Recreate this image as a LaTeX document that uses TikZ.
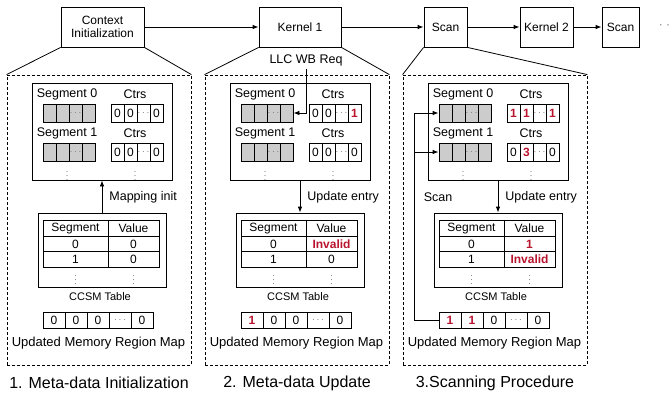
\documentclass[tikz,border=0pt]{standalone}
\usepackage{fontspec}
\setmainfont{Liberation Sans}
\usetikzlibrary{arrows.meta}

\definecolor{wbred}{RGB}{185,20,45}

\newcommand{\hot}[1]{\textcolor{wbred}{\bfseries #1}}
\newcommand{\ddd}{\textcolor{black!55}{\fontsize{10}{10}\selectfont$\cdots$}}
\newcommand{\vvv}{\textcolor{black!55}{\fontsize{9}{9}\selectfont$\vdots$}}

\tikzstyle{stage} = [
	draw = black,
	minimum height = 40pt,
	inner sep = 1pt,
	align = center,
	font = \fontsize{12}{13}\selectfont
	]
\tikzstyle{panel} = [
	draw = black,
	dash pattern = on 3pt off 2pt,
	minimum width = 184pt,
	minimum height = 290pt
	]
\tikzstyle{boxframe} = [draw = black]
\tikzstyle{lbl} = [inner sep = 0pt, font = \fontsize{12.5}{14}\selectfont]
\tikzstyle{capt} = [inner sep = 0pt, font = \fontsize{16}{18}\selectfont]
\tikzstyle{cell} = [
	draw = black,
	minimum width = 13pt,
	minimum height = 18pt,
	inner sep = 0pt,
	font = \fontsize{12}{12}\selectfont
	]
\tikzstyle{segcell} = [cell, fill = gray!40]
\tikzstyle{tcell} = [
	draw = black,
	minimum height = 15.5pt,
	inner sep = 0pt,
	font = \fontsize{12}{12}\selectfont
	]
\tikzstyle{mcell} = [cell, minimum width = 22pt, minimum height = 16pt]
\tikzstyle{vd} = [inner sep = 0pt]

\newcommand{\metapanel}[8]{%
	\begin{scope}[xshift=#2pt]
		\node[panel] (p#1) at (99,220) {};
		\node[capt] (cap#1) at (99,383) {#8};

		\node[boxframe, minimum width=140pt, minimum height=97pt] (seg#1) at (102,131.5) {};
		\node[lbl] (sl#1a) at (67,94) {Segment 0};
		\node[lbl] (cl#1a) at (135,94) {Ctrs};
		\node[lbl] (sl#1b) at (67,133) {Segment 1};
		\node[lbl] (cl#1b) at (135,133) {Ctrs};
		\foreach \i in {1,...,4} {
			\node[segcell] (s#1a\i) at (36.5+13*\i,113) {\ifnum\i=3 \ddd\fi};
			\node[segcell] (s#1b\i) at (36.5+13*\i,152) {\ifnum\i=3 \ddd\fi};
		}
		\foreach \v [count=\i] in {#3}
			\node[cell] (c#1a\i) at (104.5+13*\i,113) {\v};
		\foreach \v [count=\i] in {#4}
			\node[cell] (c#1b\i) at (104.5+13*\i,152) {\v};
		\node[vd] (sv#1) at (67,173) {\vvv};
		\node[vd] (cv#1) at (135,173) {\vvv};

		\node[boxframe, minimum width=128pt, minimum height=74pt] (tab#1) at (102,250) {};
		\node[tcell, minimum width=65pt] (th#1a) at (75.5,228.5) {Segment};
		\node[tcell, minimum width=51pt] (th#1b) at (133.5,228.5) {Value};
		\node[tcell, minimum width=65pt] (tr#1a) at (75.5,244) {0};
		\node[tcell, minimum width=51pt] (tv#1a) at (133.5,244) {#5};
		\node[tcell, minimum width=65pt] (tr#1b) at (75.5,259.5) {1};
		\node[tcell, minimum width=51pt] (tv#1b) at (133.5,259.5) {#6};
		\node[vd] (trv#1) at (75.5,277) {\vvv};
		\node[vd] (tvv#1) at (133.5,277) {\vvv};
		\node[lbl, font=\fontsize{11}{12}\selectfont] (tn#1) at (100,297) {CCSM Table};

		\foreach \v [count=\i] in {#7}
			\node[mcell] (m#1\i) at (32+22*\i,320) {\v};
		\node[lbl, font=\fontsize{13}{14}\selectfont] (ml#1) at (98.5,343) {Updated Memory Region Map};
	\end{scope}}

\begin{document}
\begin{tikzpicture}[
	x = 1pt,
	y = -1pt,
	line width = 0.8pt,
	>={Latex[length=6pt,width=4.5pt]}
	]
	\useasboundingbox (0,0) rectangle (671,400);

	\node[stage, minimum width=83pt] (ctx) at (102.5,27) {Context\\Initialization};
	\node[stage, minimum width=82pt] (k1) at (300,27) {Kernel 1};
	\node[stage, minimum width=43pt] (sc1) at (445.5,27) {Scan};
	\node[stage, minimum width=53pt] (k2) at (546.5,27) {Kernel 2};
	\node[stage, minimum width=37pt] (sc2) at (620.5,27) {Scan};
	\node[inner sep=0pt, text=gray, font=\fontsize{12}{12}\selectfont] (more) at (664.5,27) {· ·};

	\draw[->] (ctx) -- (k1);
	\draw[->] (k1) -- (sc1);
	\draw[->] (sc1) -- (k2);
	\draw[->] (k2) -- (sc2);

	\metapanel{1}{0}{0,0,\ddd,0}{0,0,\ddd,0}{0}{0}{0,0,0,\ddd,0}{1. Meta-data Initialization}
	\metapanel{2}{198}{0,0,\ddd,\hot{1}}{0,0,\ddd,0}{\hot{Invalid}}{0}{\hot{1},0,0,\ddd,0}{2. Meta-data Update}
	\metapanel{3}{396}{\hot{1},\hot{1},\ddd,\hot{1}}{0,\hot{3},\ddd,0}{\hot{1}}{\hot{Invalid}}{\hot{1},\hot{1},0,\ddd,0}{3.Scanning Procedure}

	\draw (ctx.south west) -- (p1.north west);
	\draw (ctx.south east) -- (p1.north east);
	\draw (k1.south west) -- (p2.north west);
	\draw (k1.south east) -- (p2.north east);
	\draw (sc1.south west) -- (p3.north west);
	\draw (sc1.south east) -- (p3.north east);

	\draw[->] (tab1.north) -- (seg1.south);
	\node[lbl, anchor=west] (mi1) at (109,197) {Mapping init};
	\draw[->] (seg2.south) -- (tab2.north);
	\node[lbl, anchor=west] (ue2) at (307,197) {Update entry};
	\draw[->] (seg3.south) -- (tab3.north);
	\node[lbl, anchor=west] (ue3) at (505,197) {Update entry};

	\node[lbl] (llc) at (306,60) {LLC WB Req};
	\draw[->] ([yshift=-3pt]llc.south) |- (s2a4.east);

	\node[lbl] (scl) at (438,197) {Scan};
	\coordinate (stop) at (414,113);
	\coordinate (smid) at (414,152);
	\draw[->] (m31.west) -| (stop) -- (s3a1.west);
	\draw[->] (smid) -- (s3b1.west);
\end{tikzpicture}
\end{document}
